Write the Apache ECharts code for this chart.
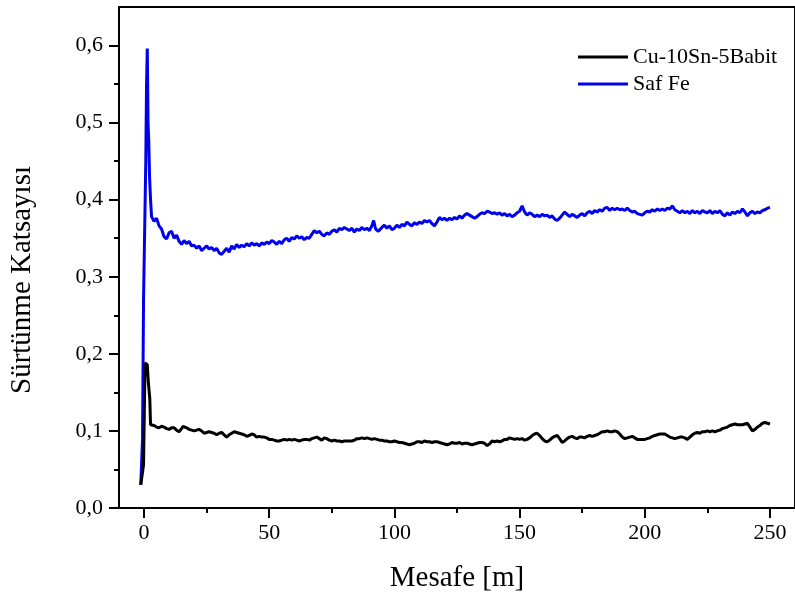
<!DOCTYPE html>
<html>
<head>
<meta charset="utf-8">
<script src="https://cdn.jsdelivr.net/npm/echarts@6/dist/echarts.min.js"></script>
<style>html,body{margin:0;padding:0;background:#fff}#c{width:795px;height:598px}</style>
</head>
<body>
<div id="c"></div>
<script>
// ---- data (distance m, friction coefficient) ----
const seriesNames = ['Cu-10Sn-5Babit', 'Saf Fe'];
const xMajorTicks = [0, 50, 100, 150, 200, 250];
const xMinorTicks = [25, 75, 125, 175, 225];
const yMajorTicks = [0, 0.1, 0.2, 0.3, 0.4, 0.5, 0.6];
const yMinorTicks = [0.05, 0.15, 0.25, 0.35, 0.45, 0.55];

const safFe = [
[-1.3,0.03],[-0.6,0.09],[-0.2,0.27],[0.7,0.45],[1.0,0.55],[1.3,0.596],[1.6,0.50],[1.9,0.474],[2.2,0.43],[2.6,0.40],
[3,0.378],[4,0.372],[5,0.376],[6,0.366],[7,0.362],[8,0.352],[9,0.349],[10,0.357],[11,0.359],[12,0.350],[13,0.354],[14,0.346],[15,0.342],[16,0.347],[17,0.343],[18,0.346],[19,0.340],[20,0.341],
[21,0.337],[22,0.340],[23,0.334],[24,0.337],[25,0.340],[26,0.336],[27,0.338],[28,0.334],[29,0.337],[30,0.331],[31,0.329],[32,0.333],[33,0.337],[34,0.332],[35,0.340],[36,0.336],[37,0.342],[38,0.338],[39,0.341],[40,0.339],
[41,0.343],[42,0.340],[43,0.344],[44,0.341],[45,0.343],[46,0.340],[47,0.344],[48,0.342],[49,0.345],[50,0.343],[51,0.347],[52,0.345],[53,0.342],[54,0.346],[55,0.343],[56,0.348],[57,0.350],[58,0.346],[59,0.351],[60,0.349],
[61,0.353],[62,0.350],[63,0.352],[64,0.348],[65,0.351],[66,0.350],[67,0.355],[68,0.360],[69,0.357],[70,0.359],[71,0.355],[72,0.353],[73,0.357],[74,0.355],[75,0.359],[76,0.361],[77,0.358],[78,0.363],[79,0.361],[80,0.364],
[81,0.362],[82,0.360],[83,0.363],[84,0.358],[85,0.362],[86,0.360],[87,0.364],[88,0.361],[89,0.363],[90,0.360],[91,0.366],[91.7,0.373],[92.5,0.362],[93.6,0.359],[95,0.364],[96,0.367],[97,0.363],[98,0.366],[99,0.361],[100,0.363],
[101,0.367],[102,0.364],[103,0.368],[104,0.366],[105,0.371],[106,0.368],[107,0.366],[108,0.370],[109,0.368],[110,0.371],[111,0.369],[112,0.373],[113,0.371],[114,0.373],[115,0.369],[116,0.366],[117,0.371],[118,0.377],[119,0.374],[120,0.376],
[121,0.373],[122,0.376],[123,0.374],[124,0.377],[125,0.375],[126,0.379],[127,0.376],[128,0.380],[129,0.382],[130,0.380],[131,0.378],[132,0.376],[133,0.378],[134,0.381],[135,0.383],[136,0.382],[137,0.385],[138,0.384],[139,0.382],[140,0.383],
[141,0.381],[142,0.383],[143,0.380],[144,0.382],[145,0.379],[146,0.381],[147,0.378],[148,0.380],[149,0.383],[150,0.385],[151,0.392],[152,0.384],[153,0.380],[154,0.383],[155,0.381],[156,0.378],[157,0.380],[158,0.378],[159,0.381],[160,0.379],
[161,0.380],[162,0.377],[163,0.379],[164,0.375],[165,0.373],[166,0.376],[167,0.380],[168,0.384],[169,0.381],[170,0.378],[171,0.381],[172,0.379],[173,0.377],[174,0.380],[175,0.382],[176,0.379],[177,0.383],[178,0.385],[179,0.382],[180,0.386],
[181,0.384],[182,0.387],[183,0.385],[184,0.389],[185,0.390],[186,0.386],[187,0.389],[188,0.387],[189,0.389],[190,0.387],[191,0.388],[192,0.386],[193,0.389],[194,0.386],[195,0.384],[196,0.385],[197,0.382],[198,0.381],[199,0.380],[200,0.383],
[201,0.385],[202,0.384],[203,0.387],[204,0.385],[205,0.388],[206,0.386],[207,0.388],[208,0.386],[209,0.389],[210,0.388],[211,0.392],[212,0.387],[213,0.385],[214,0.383],[215,0.386],[216,0.383],[217,0.385],[218,0.382],[219,0.386],[220,0.383],
[221,0.385],[222,0.382],[223,0.386],[224,0.384],[225,0.383],[226,0.386],[227,0.382],[228,0.385],[229,0.383],[230,0.386],[231,0.381],[232,0.379],[233,0.383],[234,0.380],[235,0.384],[236,0.382],[237,0.385],[238,0.383],[239,0.388],[240,0.384],
[241,0.379],[242,0.383],[243,0.385],[244,0.382],[245,0.384],[246,0.383],[247,0.386],[248,0.387],[249,0.389],[250,0.390]
];

const cuSnBabit = [
[-1.3,0.030],[-0.2,0.056],[0.4,0.188],[1.3,0.186],[1.7,0.164],[2.3,0.142],[2.6,0.108],
[4,0.107],[5,0.105],[6,0.104],[7,0.106],[8,0.105],[9,0.103],[10,0.102],[11,0.104],[12,0.104],[13,0.101],[14,0.099],[15,0.103],[15.6,0.106],[17,0.104],[18,0.102],[19,0.101],[20,0.100],
[21,0.101],[22,0.102],[23,0.100],[24,0.097],[25,0.098],[26,0.099],[27,0.098],[28,0.097],[29,0.095],[30,0.097],[31,0.098],[32,0.095],[33,0.092],[34,0.095],[35,0.097],[36,0.099],[37,0.098],[38,0.097],[39,0.096],[40,0.095],
[41,0.093],[42,0.094],[43,0.096],[44,0.095],[45,0.092],[46,0.093],[47,0.092],[48,0.092],[49,0.091],[50,0.089],[51,0.089],[52,0.088],[53,0.087],[54,0.087],[55,0.088],[56,0.089],[57,0.088],[58,0.089],[59,0.088],[60,0.089],
[61,0.088],[62,0.087],[63,0.088],[64,0.089],[65,0.089],[66,0.088],[67,0.090],[68,0.091],[69,0.092],[70,0.090],[71,0.088],[72,0.091],[73,0.090],[74,0.088],[75,0.087],[76,0.088],[77,0.087],[78,0.087],[79,0.086],[80,0.087],
[81,0.087],[82,0.087],[83,0.087],[84,0.088],[85,0.090],[86,0.090],[87,0.091],[88,0.090],[89,0.091],[90,0.090],[91,0.089],[92,0.090],[93,0.089],[94,0.088],[95,0.088],[96,0.087],[97,0.087],[98,0.086],[99,0.086],[100,0.087],
[101,0.086],[102,0.085],[103,0.085],[104,0.084],[105,0.083],[106,0.082],[107,0.083],[108,0.084],[109,0.086],[110,0.086],[111,0.085],[112,0.087],[113,0.086],[114,0.086],[115,0.085],[116,0.086],[117,0.086],[118,0.085],[119,0.084],[120,0.083],
[121,0.082],[122,0.083],[123,0.085],[124,0.084],[125,0.084],[126,0.085],[127,0.083],[128,0.084],[129,0.084],[130,0.083],[131,0.082],[132,0.083],[133,0.084],[134,0.085],[135,0.085],[136,0.084],[137,0.081],[138,0.083],[139,0.087],[140,0.086],
[141,0.087],[142,0.086],[143,0.087],[144,0.089],[145,0.089],[146,0.091],[147,0.090],[148,0.089],[149,0.090],[150,0.089],[151,0.090],[152,0.088],[153,0.089],[154,0.091],[155,0.094],[156,0.096],[157,0.097],[158,0.094],[159,0.090],[160,0.087],
[161,0.086],[162,0.088],[163,0.091],[164,0.093],[165,0.094],[166,0.090],[167,0.085],[168,0.087],[169,0.090],[170,0.092],[171,0.093],[172,0.091],[173,0.090],[174,0.092],[175,0.092],[176,0.091],[177,0.093],[178,0.094],[179,0.093],[180,0.094],
[181,0.095],[182,0.097],[183,0.099],[184,0.099],[185,0.100],[186,0.099],[187,0.099],[188,0.100],[189,0.099],[190,0.096],[191,0.092],[192,0.090],[193,0.091],[194,0.092],[195,0.093],[196,0.091],[197,0.089],[198,0.089],[199,0.089],[200,0.089],
[201,0.090],[202,0.091],[203,0.093],[204,0.094],[205,0.095],[206,0.096],[207,0.096],[208,0.096],[209,0.094],[210,0.092],[211,0.091],[212,0.090],[213,0.091],[214,0.092],[215,0.092],[216,0.091],[217,0.089],[218,0.092],[219,0.095],[220,0.097],
[221,0.098],[222,0.097],[223,0.099],[224,0.099],[225,0.100],[226,0.099],[227,0.100],[228,0.099],[229,0.100],[230,0.101],[231,0.103],[232,0.104],[233,0.105],[234,0.107],[235,0.108],[236,0.109],[237,0.108],[238,0.108],[239,0.108],[240,0.109],
[241,0.110],[242,0.105],[243,0.100],[244,0.102],[245,0.105],[246,0.107],[247,0.110],[248,0.111],[249,0.110],[250,0.109]
];

const FONT = 'Liberation Serif';
const chart = echarts.init(document.getElementById('c'), null, {renderer: 'canvas'});

const xBase = {type: 'value', min: -10, max: 260, position: 'bottom', gridIndex: 0, splitLine: {show: false}};
const yBase = {type: 'value', min: 0, max: 0.65, position: 'left', gridIndex: 0, splitLine: {show: false}};

chart.setOption({
  animation: false,
  backgroundColor: '#fff',
  grid: {left: 119, top: 7, right: -6, bottom: 88, show: true, borderColor: '#000', borderWidth: 2, backgroundColor: 'transparent'},
  legend: {
    data: seriesNames, orient: 'vertical', left: 573, top: 41, itemWidth: 50, itemHeight: 3, itemGap: 5, icon: 'rect',
    textStyle: {fontFamily: FONT, fontSize: 22, color: '#000', lineHeight: 22}
  },
  xAxis: [
    Object.assign({}, xBase, {
      name: 'Mesafe [m]', nameLocation: 'middle', nameGap: 56,
      nameTextStyle: {fontFamily: FONT, fontSize: 29, color: '#000'},
      axisLine: {show: true, onZero: false, lineStyle: {color: '#000', width: 2}},
      axisTick: {show: true, customValues: xMajorTicks, length: 10, lineStyle: {color: '#000', width: 2}},
      axisLabel: {customValues: xMajorTicks, margin: 14, fontFamily: FONT, fontSize: 22, color: '#000'}
    }),
    Object.assign({}, xBase, {
      axisLine: {show: false, onZero: false}, axisLabel: {show: false},
      axisTick: {show: true, customValues: xMinorTicks, length: 5, lineStyle: {color: '#000', width: 2}}
    })
  ],
  yAxis: [
    Object.assign({}, yBase, {
      axisLine: {show: true, onZero: false, lineStyle: {color: '#000', width: 2}},
      axisTick: {show: true, customValues: yMajorTicks, length: 10, lineStyle: {color: '#000', width: 2}},
      axisLabel: {customValues: yMajorTicks, margin: 16, fontFamily: FONT, fontSize: 22, color: '#000',
        formatter: v => v.toFixed(1).replace('.', ',')}
    }),
    Object.assign({}, yBase, {
      axisLine: {show: false, onZero: false}, axisLabel: {show: false},
      axisTick: {show: true, customValues: yMinorTicks, length: 5, lineStyle: {color: '#000', width: 2}}
    })
  ],
  graphic: [{
    type: 'text', x: 22, y: 280, rotation: Math.PI / 2,
    style: {text: 'Sürtünme Katsayısı', font: '29px "Liberation Serif"', fill: '#000', align: 'center', verticalAlign: 'middle'}
  }],
  series: [
    {name: seriesNames[1], type: 'line', data: safFe, xAxisIndex: 0, yAxisIndex: 0, showSymbol: false, symbol: 'none',
     lineStyle: {color: '#0000ee', width: 3}, itemStyle: {color: '#0000ee'}},
    {name: seriesNames[0], type: 'line', data: cuSnBabit, xAxisIndex: 0, yAxisIndex: 0, showSymbol: false, symbol: 'none',
     lineStyle: {color: '#000', width: 3}, itemStyle: {color: '#000'}}
  ]
});
</script>
</body>
</html>
